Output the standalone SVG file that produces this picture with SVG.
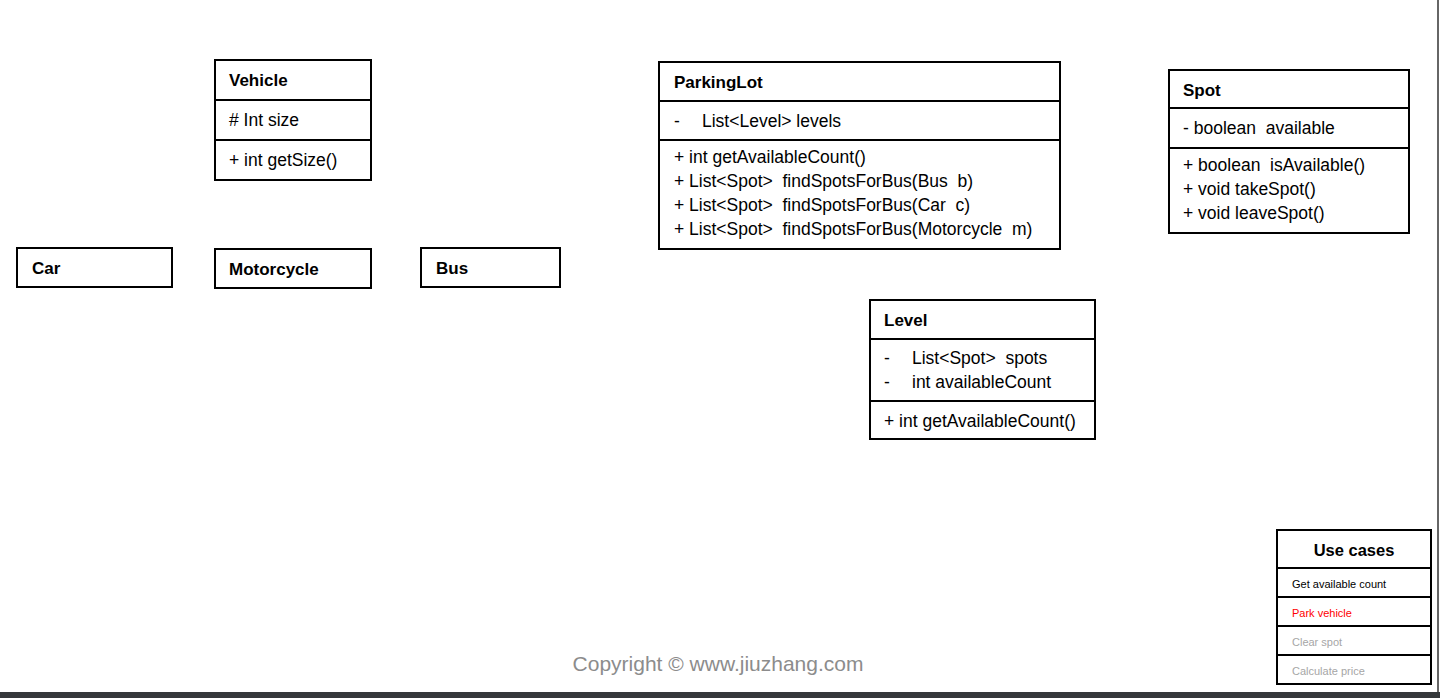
<svg xmlns="http://www.w3.org/2000/svg" width="1440" height="698" viewBox="0 0 1440 698">
<style>
.box{fill:#fff;stroke:#000;stroke-width:2}
.ln{stroke:#000;stroke-width:2}
text{font-family:"Liberation Sans","Open Sans",Arial,sans-serif;fill:#000;white-space:pre}
.t{font-size:17px;font-weight:bold}
.m{font-size:17.5px}
.uc{font-size:11px}
</style>
<rect x="0" y="0" width="1440" height="698" fill="#fff"/>
<line x1="1438" y1="0" x2="1438" y2="692" stroke="#333" stroke-width="1.5"/>
<rect x="0" y="692" width="1440" height="6" fill="#35383b"/>

<g id="vehicle">
<rect class="box" x="215" y="60" width="156" height="120"/>
<line class="ln" x1="215" y1="100" x2="371" y2="100"/>
<line class="ln" x1="215" y1="140" x2="371" y2="140"/>
<text class="t" x="229" y="86">Vehicle</text>
<text class="m" x="229" y="126"># Int size</text>
<text class="m" x="229" y="166">+ int getSize()</text>
</g>

<g id="car">
<rect class="box" x="17" y="248" width="155" height="39"/>
<text class="t" x="32" y="274">Car</text>
</g>

<g id="motorcycle">
<rect class="box" x="215" y="249" width="156" height="39"/>
<text class="t" x="229" y="275">Motorcycle</text>
</g>

<g id="bus">
<rect class="box" x="421" y="248" width="139" height="39"/>
<text class="t" x="436" y="274">Bus</text>
</g>

<g id="parkinglot">
<rect class="box" x="659" y="62" width="401" height="187"/>
<line class="ln" x1="659" y1="101" x2="1060" y2="101"/>
<line class="ln" x1="659" y1="140" x2="1060" y2="140"/>
<text class="t" x="674" y="88">ParkingLot</text>
<text class="m" x="674" y="127">-</text>
<text class="m" x="702" y="127">List&lt;Level&gt; levels</text>
<text class="m" x="674" y="163">+ int getAvailableCount()</text>
<text class="m" x="674" y="187">+ List&lt;Spot&gt;  findSpotsForBus(Bus  b)</text>
<text class="m" x="674" y="211">+ List&lt;Spot&gt;  findSpotsForBus(Car  c)</text>
<text class="m" x="674" y="235">+ List&lt;Spot&gt;  findSpotsForBus(Motorcycle  m)</text>
</g>

<g id="spot">
<rect class="box" x="1169" y="70" width="240" height="163"/>
<line class="ln" x1="1169" y1="108" x2="1409" y2="108"/>
<line class="ln" x1="1169" y1="148" x2="1409" y2="148"/>
<text class="t" x="1183" y="96">Spot</text>
<text class="m" x="1183" y="134">- boolean  available</text>
<text class="m" x="1183" y="171">+ boolean  isAvailable()</text>
<text class="m" x="1183" y="195">+ void takeSpot()</text>
<text class="m" x="1183" y="219">+ void leaveSpot()</text>
</g>

<g id="level">
<rect class="box" x="870" y="300" width="225" height="139"/>
<line class="ln" x1="870" y1="339" x2="1095" y2="339"/>
<line class="ln" x1="870" y1="401" x2="1095" y2="401"/>
<text class="t" x="884" y="326">Level</text>
<text class="m" x="884" y="364">-</text>
<text class="m" x="912" y="364">List&lt;Spot&gt;  spots</text>
<text class="m" x="884" y="388">-</text>
<text class="m" x="912" y="388">int availableCount</text>
<text class="m" x="884" y="427">+ int getAvailableCount()</text>
</g>

<g id="usecases">
<rect class="box" x="1277" y="530" width="154" height="154"/>
<line class="ln" x1="1277" y1="568" x2="1431" y2="568"/>
<line class="ln" x1="1277" y1="597" x2="1431" y2="597"/>
<line class="ln" x1="1277" y1="626" x2="1431" y2="626"/>
<line class="ln" x1="1277" y1="655" x2="1431" y2="655"/>
<text x="1354" y="556" text-anchor="middle" style="font-size:16.5px;font-weight:bold">Use cases</text>
<text class="uc" x="1292" y="588">Get available count</text>
<text class="uc" x="1292" y="617" style="fill:#ff0000">Park vehicle</text>
<text class="uc" x="1292" y="646" style="fill:#a6a6a6">Clear spot</text>
<text class="uc" x="1292" y="675" style="fill:#a6a6a6">Calculate price</text>
</g>

<g id="connectors"></g>

<text x="718" y="671" text-anchor="middle" style="font-size:21px;fill:#8c8c8c">Copyright © www.jiuzhang.com</text>
</svg>
